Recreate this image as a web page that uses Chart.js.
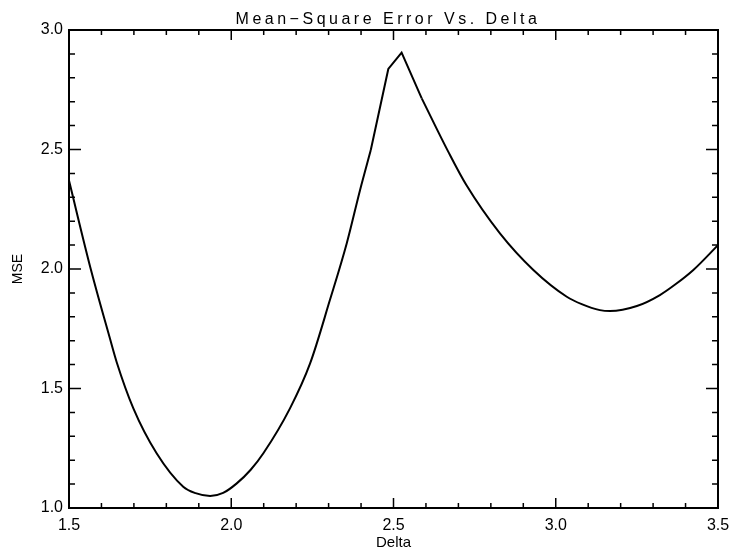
<!DOCTYPE html>
<html>
<head>
<meta charset="utf-8">
<title>Mean-Square Error Vs. Delta</title>
<script src="https://cdn.jsdelivr.net/npm/chart.js@4.4.1/dist/chart.umd.min.js"></script>
<style>
  html, body { margin: 0; padding: 0; background: #fff; }
  canvas { display: block; }
</style>
</head>
<body>
<canvas id="mseChart" width="731" height="552"></canvas>
<script>
// values
var deltaValues = [1.500, 1.567, 1.626, 1.647, 1.698, 1.770, 1.852, 1.890, 1.935, 1.975,
                   2.017, 2.060, 2.099, 2.181, 2.243, 2.304, 2.356, 2.397, 2.430, 2.484,
                   2.525, 2.587, 2.669, 2.725, 2.828, 2.931, 3.034, 3.080, 3.136, 3.167,
                   3.250, 3.321, 3.370, 3.424, 3.500];
var mseValues = [2.370, 2.000, 1.710, 1.610, 1.418, 1.229, 1.089, 1.062, 1.050, 1.063,
                 1.103, 1.160, 1.229, 1.417, 1.605, 1.870, 2.108, 2.331, 2.498, 2.837,
                 2.905, 2.714, 2.490, 2.350, 2.149, 1.996, 1.884, 1.853, 1.828, 1.824,
                 1.845, 1.891, 1.937, 1.996, 2.100];

var xTickLabels = [1.5, 2.0, 2.5, 3.0, 3.5];
var yTickLabels = [1.0, 1.5, 2.0, 2.5, 3.0];

var points = deltaValues.map(function (d, i) { return { x: d, y: mseValues[i] }; });

// smooth parts either side, straight segments around the sharp peak
function part(from, to, smooth) {
  return {
    data: points.slice(from, to + 1),
    borderColor: '#000',
    borderWidth: 2,
    pointRadius: 0,
    fill: false,
    tension: smooth ? 0.4 : 0,
    cubicInterpolationMode: smooth ? 'monotone' : 'default'
  };
}

var labelFont = { family: 'Liberation Sans, Arial, sans-serif', size: 16 };

// draws the box and the inward ticks on all four sides
var boxTicks = {
  id: 'boxTicks',
  afterDraw: function (chart) {
    var ctx = chart.ctx, a = chart.chartArea;
    var x = chart.scales.x, y = chart.scales.y;
    ctx.save();
    ctx.strokeStyle = '#000';
    ctx.lineWidth = 2;
    ctx.strokeRect(a.left, a.top, a.right - a.left, a.bottom - a.top);
    ctx.lineWidth = 1.5;
    ctx.beginPath();
    for (var i = 0; i <= 20; i++) {
      var px = x.getPixelForValue(1.5 + i * 0.1);
      var len = (i % 5 === 0) ? 10 : 5;
      ctx.moveTo(px, a.bottom); ctx.lineTo(px, a.bottom - len);
      ctx.moveTo(px, a.top); ctx.lineTo(px, a.top + len);
    }
    for (var j = 0; j <= 20; j++) {
      var py = y.getPixelForValue(1.0 + j * 0.1);
      var ylen = (j % 5 === 0) ? 12 : 6;
      ctx.moveTo(a.left, py); ctx.lineTo(a.left + ylen, py);
      ctx.moveTo(a.right, py); ctx.lineTo(a.right - ylen, py);
    }
    ctx.stroke();

    // title, spaced out like the original plotting font
    ctx.fillStyle = '#000';
    ctx.font = '16px Liberation Sans, Arial, sans-serif';
    ctx.letterSpacing = '3.5px';
    ctx.textAlign = 'center';
    ctx.textBaseline = 'middle';
    ctx.fillText('Mean\u2212Square Error Vs. Delta', 388, 20);
    ctx.restore();
  }
};

var ctx = document.getElementById('mseChart').getContext('2d');
var mseChart = new Chart(ctx, {
  type: 'line',
  data: {
    datasets: [part(0, 18, true), part(18, 21, false), part(21, deltaValues.length - 1, true)]
  },
  options: {
    responsive: false,
    animation: false,
    layout: { padding: { top: 30, right: 13, left: 0, bottom: 0 } },
    plugins: {
      legend: { display: false },
      tooltip: { enabled: false }
    },
    scales: {
      x: {
        type: 'linear',
        min: 1.5,
        max: 3.5,
        afterBuildTicks: function (s) { s.ticks = xTickLabels.map(function (v) { return { value: v }; }); },
        afterFit: function (s) { s.height = 44; s.paddingLeft = 0; s.paddingRight = 0; },
        grid: { display: false, drawTicks: false },
        border: { display: false },
        ticks: {
          color: '#000',
          font: labelFont,
          padding: 8,
          maxRotation: 0,
          callback: function (v) { return v.toFixed(1); }
        },
        title: { display: true, text: 'Delta', color: '#000', font: { family: labelFont.family, size: 15 }, padding: { top: 3, bottom: 0 } }
      },
      y: {
        type: 'linear',
        min: 1.0,
        max: 3.0,
        afterBuildTicks: function (s) { s.ticks = yTickLabels.map(function (v) { return { value: v }; }); },
        afterFit: function (s) { s.width = 69; s.paddingTop = 0; s.paddingBottom = 0; },
        grid: { display: false, drawTicks: false },
        border: { display: false },
        ticks: {
          color: '#000',
          font: labelFont,
          padding: 6,
          callback: function (v) { return v.toFixed(1); }
        },
        title: { display: true, text: 'MSE', color: '#000', font: { family: labelFont.family, size: 14 }, padding: { top: 10, bottom: 0 } }
      }
    }
  },
  plugins: [boxTicks]
});
</script>
</body>
</html>
